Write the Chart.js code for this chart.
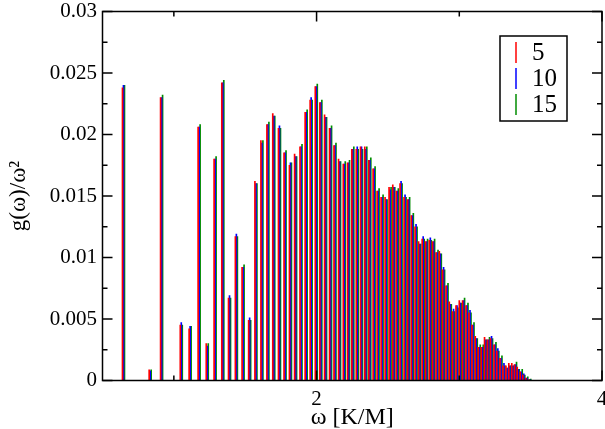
<!DOCTYPE html>
<html><head><meta charset="utf-8">
<script src="https://cdn.jsdelivr.net/npm/chart.js@4.4.1/dist/chart.umd.min.js"></script>
<style>html,body{margin:0;padding:0;background:#fff;overflow:hidden}</style>
</head><body>
<canvas id="c" width="605" height="429"></canvas>
<script>
const omega = [0.647,0.834,0.914,1.052,1.114,1.177,1.234,1.289,1.343,1.390,
  1.438,1.485,1.531,1.575,1.617,1.659,1.700,1.740,1.779,1.817,
  1.853,1.891,1.927,1.962,1.998,2.030,2.063,2.098,2.129,2.161,
  2.194,2.224,2.254,2.285,2.315,2.345,2.373,2.403,2.431,2.459,
  2.487,2.515,2.541,2.566,2.592,2.620,2.645,2.671,2.697,2.722,
  2.747,2.771,2.797,2.820,2.844,2.867,2.890,2.914,2.937,2.960,
  2.984,3.007,3.030,3.054,3.075,3.096,3.119,3.140,3.161,3.184,
  3.205,3.226,3.250,3.270,3.292,3.313,3.334,3.354,3.375,3.394,
  3.413,3.434,3.452,3.473,3.494];
const n5 = [0.0238,0.00087,0.0230,0.0045,0.0042,0.0206,0.0030,0.0180,0.0242,0.0067,
  0.0117,0.0092,0.0049,0.0162,0.0195,0.0208,0.0217,0.0205,0.0185,0.0175,
  0.0184,0.0190,0.0218,0.0228,0.0239,0.0226,0.0216,0.0205,0.0191,0.0180,
  0.0176,0.0177,0.0188,0.0188,0.0190,0.0190,0.0179,0.0172,0.0154,0.0149,
  0.0149,0.0157,0.0159,0.0154,0.0160,0.0149,0.0147,0.0134,0.0125,0.0113,
  0.0115,0.0113,0.0114,0.0113,0.0104,0.0105,0.0090,0.0077,0.0064,0.0056,
  0.0061,0.0065,0.0065,0.0061,0.0055,0.0045,0.0036,0.0027,0.0027,0.0035,
  0.0033,0.0034,0.0029,0.0024,0.0018,0.0012,0.0012,0.0014,0.0014,0.0013,
  0.0011,0.0007,0.00045,0.0002,0.00008];
const n10 = [0.0240,0.00077,0.0230,0.0047,0.0044,0.0206,0.0028,0.0180,0.0242,0.0069,
  0.0119,0.0092,0.0051,0.0160,0.0193,0.0208,0.0215,0.0207,0.0185,0.0177,
  0.0182,0.0190,0.0218,0.0230,0.0239,0.0226,0.0214,0.0205,0.0191,0.0178,
  0.0176,0.0177,0.0188,0.0190,0.0190,0.0188,0.0179,0.0172,0.0154,0.0149,
  0.0147,0.0155,0.0157,0.0154,0.0162,0.0151,0.0147,0.0134,0.0127,0.0111,
  0.0117,0.0113,0.0116,0.0113,0.0104,0.0103,0.0092,0.0077,0.0062,0.0058,
  0.0061,0.0063,0.0065,0.0061,0.0057,0.0045,0.0034,0.0027,0.0027,0.0033,
  0.0033,0.0036,0.0029,0.0026,0.0018,0.0014,0.0010,0.0012,0.0012,0.0013,
  0.0009,0.0007,0.00055,0.0002,0.00008];
const n15 = [0.0240,0.00087,0.0232,0.0045,0.0044,0.0208,0.0030,0.0182,0.0244,0.0067,
  0.0117,0.0094,0.0049,0.0160,0.0195,0.0210,0.0215,0.0205,0.0187,0.0177,
  0.0182,0.0192,0.0220,0.0228,0.0241,0.0228,0.0214,0.0207,0.0193,0.0178,
  0.0178,0.0179,0.0190,0.0188,0.0188,0.0190,0.0181,0.0174,0.0156,0.0151,
  0.0147,0.0157,0.0157,0.0156,0.0160,0.0149,0.0149,0.0136,0.0125,0.0111,
  0.0115,0.0115,0.0114,0.0115,0.0106,0.0103,0.0090,0.0079,0.0062,0.0056,
  0.0059,0.0063,0.0067,0.0063,0.0055,0.0047,0.0034,0.0029,0.0029,0.0033,
  0.0035,0.0034,0.0031,0.0024,0.0020,0.0012,0.0010,0.0012,0.0012,0.0015,
  0.0009,0.0009,0.00045,0.0003,0.00012];
const seriesLabels = ['5','10','15'];
const seriesColors = ['#ff0000','#0000ff','#008c00'];
const xTickValues = [2,4];
const xMinorValues = [1,3];
const xMin = 0.5, xMax = 4;
const yMin = 0, yMax = 0.03, yStep = 0.005;

const FONT = "'Liberation Serif','Times New Roman',serif";

function mk(vals){ return omega.map((w,i)=>({x:w, y:vals[i]})); }

const framePlugin = {
  id:'frame',
  afterDatasetsDraw(chart){
    const {ctx, chartArea:a, scales:{x,y}} = chart;
    ctx.save();
    ctx.strokeStyle='#000';
    ctx.lineWidth=1.5;
    ctx.beginPath();
    const MJ=10, MN=5;
    x.ticks.forEach(t=>{const p=x.getPixelForValue(t.value);
      ctx.moveTo(p,a.bottom); ctx.lineTo(p,a.bottom-MJ);
      ctx.moveTo(p,a.top); ctx.lineTo(p,a.top+MJ);});
    xMinorValues.forEach(v=>{const p=x.getPixelForValue(v);
      ctx.moveTo(p,a.bottom); ctx.lineTo(p,a.bottom-MN);
      ctx.moveTo(p,a.top); ctx.lineTo(p,a.top+MN);});
    const yt = y.ticks.map(t=>t.value);
    yt.forEach((v,i)=>{const p=y.getPixelForValue(v);
      ctx.moveTo(a.left,p); ctx.lineTo(a.left+MJ,p);
      ctx.moveTo(a.right,p); ctx.lineTo(a.right-MJ,p);
      if(i<yt.length-1){const q=y.getPixelForValue((v+yt[i+1])/2);
        ctx.moveTo(a.left,q); ctx.lineTo(a.left+MN,q);
        ctx.moveTo(a.right,q); ctx.lineTo(a.right-MN,q);}
    });
    ctx.stroke();
    ctx.lineWidth=1.5;
    ctx.strokeRect(a.left,a.top,a.right-a.left,a.bottom-a.top);
    ctx.restore();
  },
  afterDraw(chart){
    const ctx=chart.ctx;
    const bx=500, by=36, bw=67, bh=85;
    ctx.save();
    ctx.fillStyle='#fff';
    ctx.fillRect(bx,by,bw,bh);
    ctx.strokeStyle='#000'; ctx.lineWidth=1.5;
    ctx.strokeRect(bx,by,bw,bh);
    ctx.font="25px "+FONT;
    ctx.textBaseline='middle'; ctx.textAlign='left';
    chart.data.datasets.forEach((ds,i)=>{
      const cy = by + 16.5 + i*26;
      ctx.strokeStyle=ds.backgroundColor; ctx.lineWidth=1.5;
      ctx.beginPath(); ctx.moveTo(bx+16,cy-10.5); ctx.lineTo(bx+16,cy+10.5); ctx.stroke();
      ctx.fillStyle='#000';
      ctx.fillText(ds.label, bx+32, cy+1);
    });
    ctx.restore();
  }
};

new Chart(document.getElementById('c'), {
  type:'bar',
  data:{ datasets:[
    {label:seriesLabels[0], data:mk(n5), backgroundColor:seriesColors[0]},
    {label:seriesLabels[1], data:mk(n10), backgroundColor:seriesColors[1]},
    {label:seriesLabels[2], data:mk(n15), backgroundColor:seriesColors[2]}
  ]},
  options:{
    responsive:false, animation:false, devicePixelRatio:1,
    layout:{padding:{top:11.5,right:3,left:0,bottom:0}},
    datasets:{bar:{barThickness:1, grouped:true, borderWidth:0}},
    plugins:{legend:{display:false}, tooltip:{enabled:false}},
    scales:{
      x:{type:'linear', min:xMin, max:xMax, offset:false,
        grid:{display:false, drawTicks:false}, border:{display:false},
        afterBuildTicks(s){ s.ticks = xTickValues.map(v=>({value:v})); },
        afterFit(s){ s.height=48.5; s.paddingLeft=0; s.paddingRight=0; },
        ticks:{autoSkip:false, maxRotation:0, padding:6, color:'#000',
          font:{family:FONT, size:21}, callback:v=>String(v)},
        title:{display:true, text:'ω [K/M]', color:'#000', padding:{top:0,bottom:-3},
          font:{family:FONT, size:24}}
      },
      y:{min:yMin, max:yMax,
        grid:{display:false, drawTicks:false}, border:{display:false},
        afterFit(s){ s.width=102.5; s.paddingTop=0; s.paddingBottom=0; },
        ticks:{stepSize:yStep, padding:5.5, color:'#000', autoSkip:false,
          font:{family:FONT, size:21},
          callback:v=> v===0 ? '0' : String(+v.toFixed(3))},
        title:{display:true, text:'g(ω)/ω²', color:'#000', padding:{top:5,bottom:0},
          font:{family:FONT, size:23}}
      }
    }
  },
  plugins:[framePlugin]
});
</script>
</body></html>
